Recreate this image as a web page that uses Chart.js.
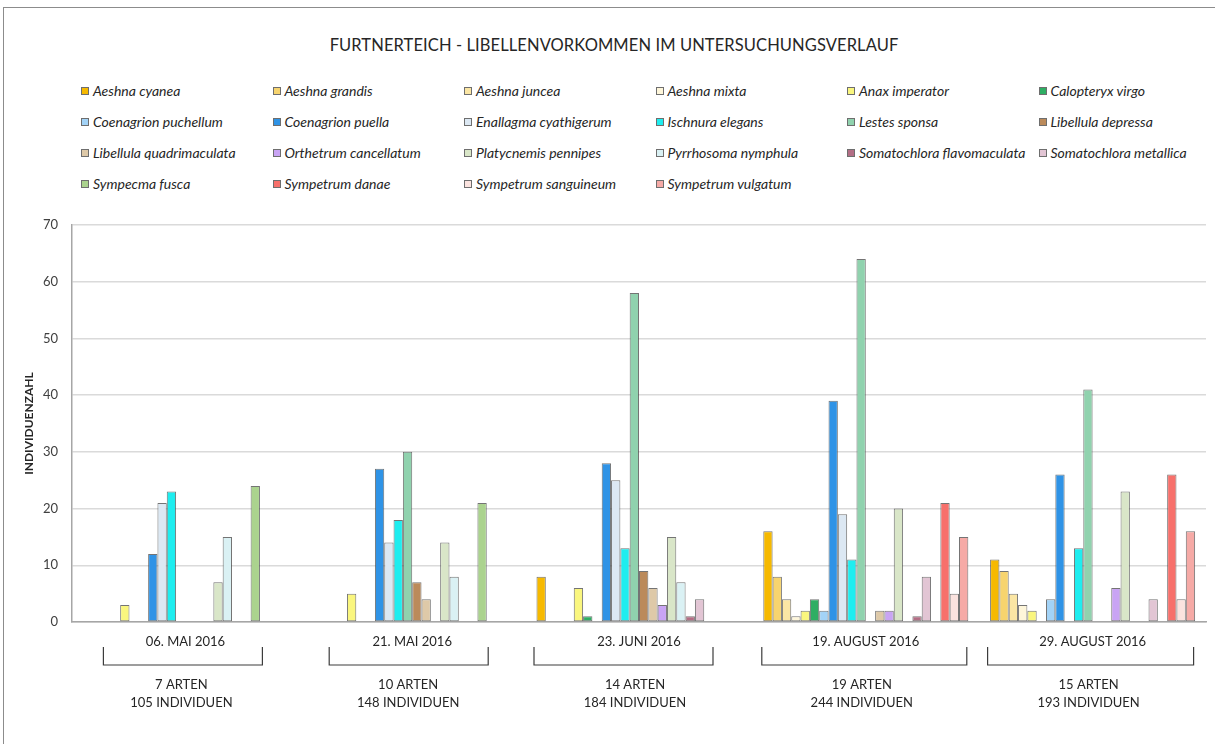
<!DOCTYPE html>
<html lang="de">
<head>
<meta charset="utf-8">
<title>Furtnerteich - Libellenvorkommen</title>
<script src="https://cdn.jsdelivr.net/npm/chart.js@4.4.0/dist/chart.umd.min.js"></script>
<style>
  html, body { margin: 0; padding: 0; background: #fff; }
  body { width: 1215px; height: 744px; position: relative; overflow: hidden; font-family: Lato, "Open Sans", sans-serif; }
  #rahmen { position: absolute; left: 3px; top: 7px; width: 1220px; height: 745px;
            border-left: 1.5px solid #8c8c8c; border-top: 1.5px solid #8c8c8c; }
  #titel { position: absolute; left: 0; top: 35px; width: 1228px; text-align: center;
           font-size: 16.5px; color: #262626; letter-spacing: 0.1px; }
  #legende { position: absolute; left: 81px; top: 75px; display: grid;
             grid-template-columns: repeat(6, 191.5px); grid-auto-rows: 31px; }
  .eintrag { display: flex; align-items: center; font-style: italic; font-size: 14px;
             color: #262626; white-space: nowrap; }
  .kasten { width: 6px; height: 6px; border: 1px solid #6e6e6e; margin-right: 4px; flex: none; }
  #diagramm { position: absolute; left: 0; top: 0; width: 1215px; height: 744px; }
</style>
</head>
<body>
<div id="rahmen"></div>
<div id="titel">FURTNERTEICH - LIBELLENVORKOMMEN IM UNTERSUCHUNGSVERLAUF</div>
<div id="legende"></div>
<div id="diagramm"><canvas id="chart"></canvas></div>

<script>
/* =========================
   DATEN
========================= */

const termine = ["06. MAI 2016", "21. MAI 2016", "23. JUNI 2016", "19. AUGUST 2016", "29. AUGUST 2016"];

const arten = [
  "Aeshna cyanea", "Aeshna grandis", "Aeshna juncea", "Aeshna mixta", "Anax imperator", "Calopteryx virgo",
  "Coenagrion puchellum", "Coenagrion puella", "Enallagma cyathigerum", "Ischnura elegans", "Lestes sponsa", "Libellula depressa",
  "Libellula quadrimaculata", "Orthetrum cancellatum", "Platycnemis pennipes", "Pyrrhosoma nymphula", "Somatochlora flavomaculata", "Somatochlora metallica",
  "Sympecma fusca", "Sympetrum danae", "Sympetrum sanguineum", "Sympetrum vulgatum"
];

const farben = [
  "#F6B900", "#F7D46E", "#FBE6A4", "#FEF6DA", "#FAF67E", "#2EAE63",
  "#A3D3F7", "#2F93E6", "#DCE8F3", "#1EEDEF", "#90D2AE", "#BB8A5A",
  "#DEC9A8", "#C9A4F4", "#D9E6C8", "#DAF1F4", "#B36E85", "#E2C5D4",
  "#ABD38E", "#F7706B", "#FBE3DF", "#F6AAA6"
];

// Individuen je Art (Reihenfolge wie "arten"), ein Array pro Termin
const mai06    = [0, 0, 0, 0, 3, 0, 0, 12, 21, 23, 0, 0, 0, 0, 7, 15, 0, 0, 24, 0, 0, 0];
const mai21    = [0, 0, 0, 0, 5, 0, 0, 27, 14, 18, 30, 7, 4, 0, 14, 8, 0, 0, 21, 0, 0, 0];
const juni23   = [8, 0, 0, 0, 6, 1, 0, 28, 25, 13, 58, 9, 6, 3, 15, 7, 1, 4, 0, 0, 0, 0];
const august19 = [16, 8, 4, 1, 2, 4, 2, 39, 19, 11, 64, 0, 2, 2, 20, 0, 1, 8, 0, 21, 5, 15];
const august29 = [11, 9, 5, 3, 2, 0, 4, 26, 0, 13, 41, 0, 0, 6, 23, 0, 0, 4, 0, 26, 4, 16];

const zaehlungen = [mai06, mai21, juni23, august19, august29];

const yTicks = [0, 10, 20, 30, 40, 50, 60, 70];

/* =========================
   KLAMMERN + ZUSAMMENFASSUNG
========================= */

// Klammerenden relativ zur Kategoriemitte (Pixel)
const klammerBreite = [[-82, 77], [-83, 76], [-105, 74], [-104, 101], [-105, 101]];

const klammerPlugin = {
  id: "klammern",
  afterDraw(chart) {
    const ctx = chart.ctx;
    const x = chart.scales.x;
    const unten = chart.chartArea.bottom;

    ctx.save();
    ctx.strokeStyle = "#3c3c3c";
    ctx.lineWidth = 1.2;
    ctx.fillStyle = "#262626";
    ctx.font = "13px Lato, 'Open Sans', sans-serif";
    ctx.textAlign = "center";
    ctx.textBaseline = "middle";

    termine.forEach((t, i) => {
      const mitte = x.getPixelForValue(i);
      const [l, r] = klammerBreite[i];

      ctx.beginPath();
      ctx.moveTo(mitte + l, unten + 25);
      ctx.lineTo(mitte + l, unten + 43);
      ctx.lineTo(mitte + r, unten + 43);
      ctx.lineTo(mitte + r, unten + 25);
      ctx.stroke();

      const werte = zaehlungen[i];
      const anzahlArten = werte.filter(v => v > 0).length;
      const summe = werte.reduce((a, b) => a + b, 0);

      ctx.fillText(anzahlArten + " ARTEN", mitte - 4, unten + 63);
      ctx.fillText(summe + " INDIVIDUEN", mitte - 4, unten + 81);
    });

    ctx.restore();
  }
};

/* =========================
   DIAGRAMM
========================= */

// 0 = keine Beobachtung -> kein Balken, aber Platz bleibt frei
const datasets = arten.map((name, i) => ({
  label: name,
  data: zaehlungen.map(z => z[i] || null),
  backgroundColor: farben[i],
  borderColor: "rgba(70,70,70,0.75)",
  borderWidth: 1,
  borderSkipped: false
}));

const chart = new Chart(document.getElementById("chart"), {
  type: "bar",
  data: { labels: termine, datasets },
  options: {
    responsive: true,
    maintainAspectRatio: false,
    animation: false,
    layout: { padding: { top: 225, left: 20, right: 9, bottom: 92 } },
    datasets: { bar: { categoryPercentage: 0.904, barPercentage: 1 } },
    plugins: {
      legend: { display: false },
      title: { display: false },
      tooltip: { enabled: false }
    },
    scales: {
      x: {
        grid: { display: false, drawTicks: false },
        border: { display: true, color: "#a6a6a6", width: 1.5 },
        ticks: { color: "#262626", padding: 12, font: { family: "Lato", size: 13 } },
        afterFit(s) { s.height = 30; }
      },
      y: {
        min: 0,
        max: 70,
        afterBuildTicks(s) { s.ticks = yTicks.map(v => ({ value: v })); },
        grid: { color: "#dadada", lineWidth: 1.5, drawTicks: false },
        border: { display: true, color: "#a6a6a6", width: 1.5 },
        ticks: { color: "#404040", padding: 14, font: { family: "Lato", size: 13 } },
        title: {
          display: true,
          text: "INDIVIDUENZAHL",
          color: "#262626",
          padding: { top: 2, bottom: 0 },
          font: { family: "Lato", size: 12, weight: "bold" }
        },
        afterFit(s) { s.width = 52; }
      }
    }
  },
  plugins: [klammerPlugin]
});

/* =========================
   LEGENDE (HTML, aus den Datasets)
========================= */

const legende = document.getElementById("legende");
chart.data.datasets.forEach(ds => {
  const div = document.createElement("div");
  div.className = "eintrag";
  div.innerHTML = `<span class="kasten" style="background:${ds.backgroundColor}"></span>${ds.label}`;
  legende.appendChild(div);
});
</script>
</body>
</html>
